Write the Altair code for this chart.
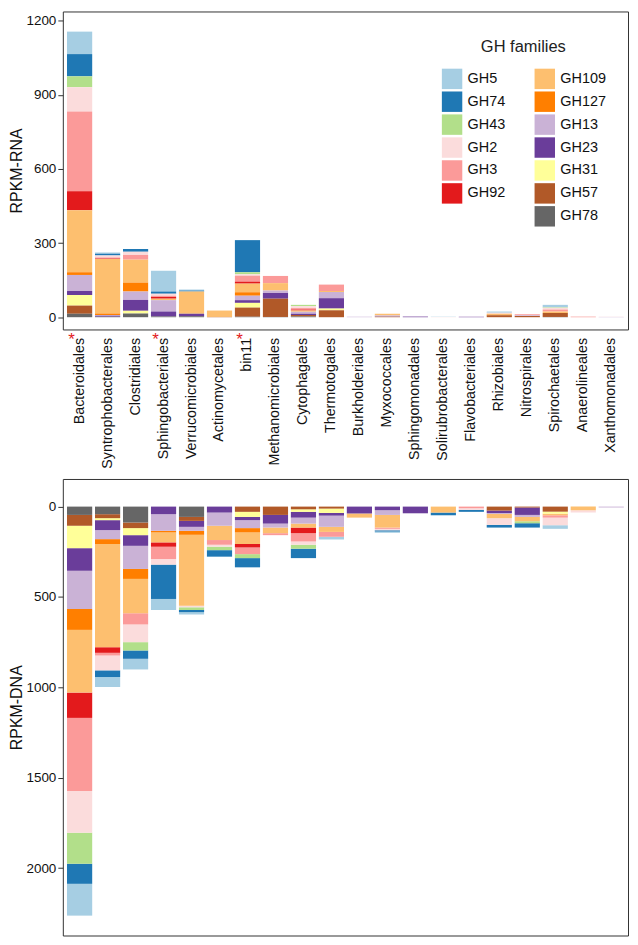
import altair as alt
import pandas as pd

FONT = "Liberation Sans"

categories = [
    "Bacteroidales", "Syntrophobacterales", "Clostridiales", "Sphingobacteriales",
    "Verrucomicrobiales", "Actinomycetales", "bin11", "Methanomicrobiales",
    "Cytophagales", "Thermotogales", "Burkholderiales", "Myxococcales",
    "Sphingomonadales", "Solirubrobacterales", "Flavobacteriales", "Rhizobiales",
    "Nitrospirales", "Spirochaetales", "Anaerolineales", "Xanthomonadales",
]
starred = ["Bacteroidales", "Sphingobacteriales", "bin11"]

families = ["GH5", "GH74", "GH43", "GH2", "GH3", "GH92", "GH109",
            "GH127", "GH13", "GH23", "GH31", "GH57", "GH78"]
family_colors = ["#A6CEE3", "#1F78B4", "#B2DF8A", "#FBDCDC", "#FB9A99", "#E31A1C",
                 "#FDBF6F", "#FF7F00", "#CAB2D6", "#6A3D9A", "#FFFF99", "#B15928", "#666666"]

# RPKM-RNA per family, one value per category (order as in `categories`)
rna = {
    "GH5":   [91, 5, 0, 84, 4, 0, 0, 0, 0, 0, 0, 0, 0, 1, 0, 5, 0, 10, 0, 0],
    "GH74":  [90, 7, 11, 9, 4, 0, 130, 0, 0, 0, 0, 0, 0, 0, 0, 0, 0, 0, 0, 0],
    "GH43":  [44, 0, 0, 0, 0, 0, 8, 0, 5, 0, 0, 0, 0, 0, 0, 0, 0, 2, 0, 0],
    "GH2":   [98, 8, 13, 8, 0, 0, 6, 0, 8, 0, 0, 0, 0, 1, 0, 4, 0, 7, 2, 1],
    "GH3":   [323, 4, 19, 5, 0, 0, 24, 29, 6, 26, 0, 0, 0, 0, 0, 0, 4, 8, 2, 0],
    "GH92":  [77, 2, 0, 7, 0, 0, 8, 0, 4, 0, 0, 0, 0, 0, 0, 0, 0, 0, 0, 0],
    "GH109": [251, 221, 93, 6, 90, 26, 35, 30, 5, 4, 0, 7, 0, 0, 0, 4, 0, 6, 0, 0],
    "GH127": [11, 6, 36, 0, 0, 0, 14, 0, 0, 0, 0, 0, 0, 0, 0, 2, 0, 0, 0, 0],
    "GH13":  [65, 3, 34, 46, 0, 0, 18, 10, 8, 25, 2, 4, 2, 0, 2, 0, 3, 0, 0, 1],
    "GH23":  [16, 4, 44, 20, 10, 0, 11, 23, 5, 42, 0, 1, 2, 0, 1, 0, 0, 0, 0, 0],
    "GH31":  [43, 0, 11, 0, 0, 0, 19, 0, 0, 7, 0, 0, 0, 0, 0, 0, 0, 0, 0, 0],
    "GH57":  [33, 0, 0, 0, 0, 1, 37, 74, 6, 28, 0, 2, 0, 0, 0, 8, 5, 16, 0, 0],
    "GH78":  [14, 2, 15, 3, 4, 0, 2, 1, 3, 0, 0, 0, 0, 0, 0, 0, 0, 1, 0, 0],
}

# RPKM-DNA per family, one value per category
dna = {
    "GH5":   [176, 55, 59, 61, 13, 0, 0, 0, 0, 15, 0, 7, 0, 0, 0, 0, 0, 20, 0, 0],
    "GH74":  [111, 37, 46, 190, 12, 36, 51, 0, 52, 0, 0, 7, 0, 15, 11, 15, 24, 0, 0, 0],
    "GH43":  [172, 0, 46, 0, 15, 19, 22, 0, 22, 0, 0, 0, 0, 0, 0, 0, 11, 0, 0, 0],
    "GH2":   [230, 82, 98, 31, 9, 11, 0, 0, 18, 0, 0, 8, 0, 0, 9, 37, 0, 42, 13, 0],
    "GH3":   [405, 15, 62, 68, 0, 26, 37, 11, 46, 27, 0, 7, 0, 0, 9, 0, 0, 13, 0, 0],
    "GH92":  [140, 31, 0, 24, 0, 0, 19, 0, 31, 0, 0, 0, 0, 0, 0, 0, 0, 0, 0, 0],
    "GH109": [347, 571, 190, 55, 392, 79, 64, 31, 22, 28, 23, 70, 0, 33, 0, 24, 24, 9, 20, 0],
    "GH127": [116, 27, 55, 9, 22, 0, 24, 0, 0, 0, 0, 0, 0, 0, 0, 0, 0, 0, 0, 0],
    "GH13":  [211, 50, 128, 92, 22, 73, 44, 22, 33, 62, 0, 26, 0, 0, 0, 4, 11, 0, 0, 5],
    "GH23":  [125, 55, 59, 42, 33, 33, 18, 48, 32, 15, 38, 20, 37, 0, 0, 14, 41, 0, 0, 0],
    "GH31":  [124, 11, 39, 0, 0, 0, 28, 0, 14, 24, 0, 0, 0, 0, 0, 0, 0, 11, 0, 0],
    "GH57":  [60, 22, 31, 0, 22, 0, 29, 46, 15, 11, 0, 0, 0, 0, 0, 22, 5, 28, 0, 0],
    "GH78":  [46, 42, 88, 0, 57, 0, 0, 0, 0, 0, 0, 0, 0, 0, 0, 0, 0, 0, 0, 0],
}

# the legend fills column by column: GH5..GH92 in the left column (padded with a
# blank entry), GH109..GH78 in the right one
color_of = dict(zip(families, family_colors))
legend_domain = families[:6] + [" "] + families[6:]
legend_range = [color_of[f] for f in families[:6]] + ["#ffffff"] + [color_of[f] for f in families[6:]]


def to_long(table):
    rows = []
    n = len(families)
    for fi, fam in enumerate(families):
        for cat, v in zip(categories, table[fam]):
            if v > 0:
                rows.append({"category": cat, "family": fam, "value": v, "stack": n - 1 - fi})
    return pd.DataFrame(rows)


rna_df = to_long(rna)
dna_df = to_long(dna)
star_df = pd.DataFrame({"category": starred})

W = 567
H_TOP = 319
H_BOTTOM = 458
x_scale = alt.Scale(paddingInner=0.1, paddingOuter=0.15)
color_scale = alt.Scale(domain=legend_domain, range=legend_range)


def y_axis(values, title):
    return alt.Axis(values=values, format="d", title=title, grid=False, domain=False,
                    tickSize=5, tickColor="#333", labelPadding=2, labelFontSize=13.5,
                    labelColor="#111", labelFont=FONT, titleFont=FONT, titleFontSize=16,
                    titleFontWeight="normal", titleColor="#111", titlePadding=1)


top_bars = alt.Chart(rna_df).mark_bar().encode(
    x=alt.X("category:N", sort=categories, scale=x_scale,
            axis=alt.Axis(title=None, labelAngle=270, ticks=False, domain=False,
                          labelPadding=8, labelFontSize=14.3, labelColor="#111",
                          labelFont=FONT, labelLimit=300)),
    y=alt.Y("value:Q", stack="zero",
            scale=alt.Scale(domain=[-49.6, 1237.5], nice=False, zero=False),
            axis=y_axis([0, 300, 600, 900, 1200], "RPKM-RNA")),
    color=alt.Color("family:N", scale=color_scale,
                    legend=alt.Legend(title="GH families", orient="none", legendX=380, legendY=28,
                                      columns=2, symbolType="square", symbolSize=420,
                                      symbolStrokeWidth=0, labelFontSize=14.5, labelFont=FONT,
                                      labelColor="#111", titleFont=FONT, titleFontSize=16.5,
                                      titleFontWeight="normal", titleColor="#222",
                                      titleAnchor="middle", titlePadding=12.5, rowPadding=2,
                                      columnPadding=29, labelOffset=5, padding=0,
                                      symbolOpacity=1)),
    order=alt.Order("stack:Q", sort="ascending"),
)

stars = alt.Chart(star_df).mark_text(text="*", color="#E31A1C", fontSize=17, dx=-8,
                                     baseline="middle", font=FONT).encode(
    x=alt.X("category:N", sort=categories, scale=x_scale),
    y=alt.value(H_TOP + 11),
)

top = alt.layer(top_bars, stars).properties(width=W, height=H_TOP)

bottom = alt.Chart(dna_df).mark_bar().encode(
    x=alt.X("category:N", sort=categories, scale=x_scale, axis=None),
    y=alt.Y("value:Q", stack="zero",
            scale=alt.Scale(domain=[-152.8, 2373], nice=False, zero=False, reverse=True),
            axis=y_axis([0, 500, 1000, 1500, 2000], "RPKM-DNA")),
    color=alt.Color("family:N", scale=color_scale, legend=None),
    order=alt.Order("stack:Q", sort="ascending"),
).properties(width=W, height=H_BOTTOM)

chart = alt.vconcat(top, bottom, spacing=150, bounds="flush").resolve_scale(
    color="independent", x="independent"
).resolve_legend(color="independent").properties(
    padding={"top": 1, "left": 0, "right": 1, "bottom": 1}
).configure(font=FONT).configure_view(stroke="#333", strokeWidth=1)

chart.save("out.html", embed_options={"renderer": "svg", "actions": False})
